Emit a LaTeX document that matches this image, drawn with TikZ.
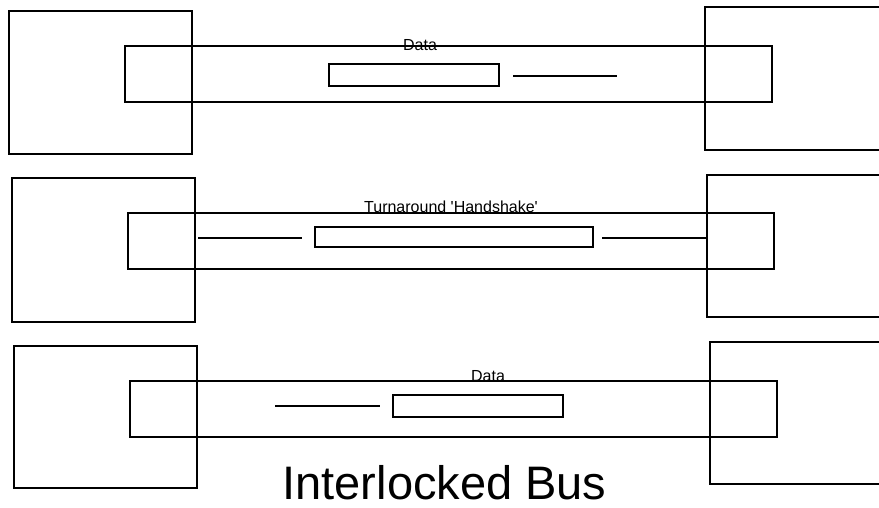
\documentclass[tikz,border=0pt]{standalone}
\usepackage{fontspec}
\setmainfont{Liberation Sans}[Ligatures=TeXOff]
\begin{document}
\begin{tikzpicture}[x=1pt,y=-1pt,
  frame/.style={draw=black,line width=1.7pt,inner sep=0pt,outer sep=0pt},
  wire/.style={draw=black,line width=1.7pt},
  lbl/.style={inner sep=0pt,anchor=base,font=\fontsize{16}{18}\selectfont},
  title/.style={inner sep=0pt,anchor=base,font=\fontsize{47}{52}\selectfont}]
\useasboundingbox (0,0) rectangle (879,508);
\clip (0,0) rectangle (879,508);

% ---- top row: data transfer ----
\node[frame,minimum width=183pt,minimum height=143pt] (l1) at (100.5,82.5) {};
\node[frame,minimum width=183pt,minimum height=143pt] (r1) at (796.5,78.5) {};
\node[frame,minimum width=647pt,minimum height=56pt] (b1) at (448.5,74) {};
\node[frame,minimum width=170pt,minimum height=22pt] (p1) at (414,75) {};
\coordinate (t1a) at (513,76);
\coordinate (t1b) at (617,76);
\draw[wire] (t1a) -- (t1b);
\node[lbl] (d1) at (420,51) {Data};

% ---- middle row: turnaround ----
\node[frame,minimum width=183pt,minimum height=144pt] (l2) at (103.5,250) {};
\node[frame,minimum width=183pt,minimum height=142pt] (r2) at (798.5,246) {};
\node[frame,minimum width=646pt,minimum height=56pt] (b2) at (451,241) {};
\node[frame,minimum width=278pt,minimum height=20pt] (p2) at (454,237) {};
\coordinate (t2a) at (198,238);
\coordinate (t2b) at (302,238);
\coordinate (t2c) at (602,238);
\draw[wire] (t2a) -- (t2b);
\draw[wire] (t2c) -- (r2.west |- t2c);
\node[lbl] (d2) at (451,213) {Turnaround 'Handshake'};

% ---- bottom row: data transfer ----
\node[frame,minimum width=183pt,minimum height=142pt] (l3) at (105.5,417) {};
\node[frame,minimum width=183pt,minimum height=142pt] (r3) at (801.5,413) {};
\node[frame,minimum width=647pt,minimum height=56pt] (b3) at (453.5,409) {};
\node[frame,minimum width=170pt,minimum height=22pt] (p3) at (478,406) {};
\coordinate (t3a) at (275,406);
\coordinate (t3b) at (380,406);
\draw[wire] (t3a) -- (t3b);
\node[lbl] (d3) at (488,381.5) {Data};

\node[title] (ttl) at (444.5,499) {Interlocked Bus};
\end{tikzpicture}
\end{document}
